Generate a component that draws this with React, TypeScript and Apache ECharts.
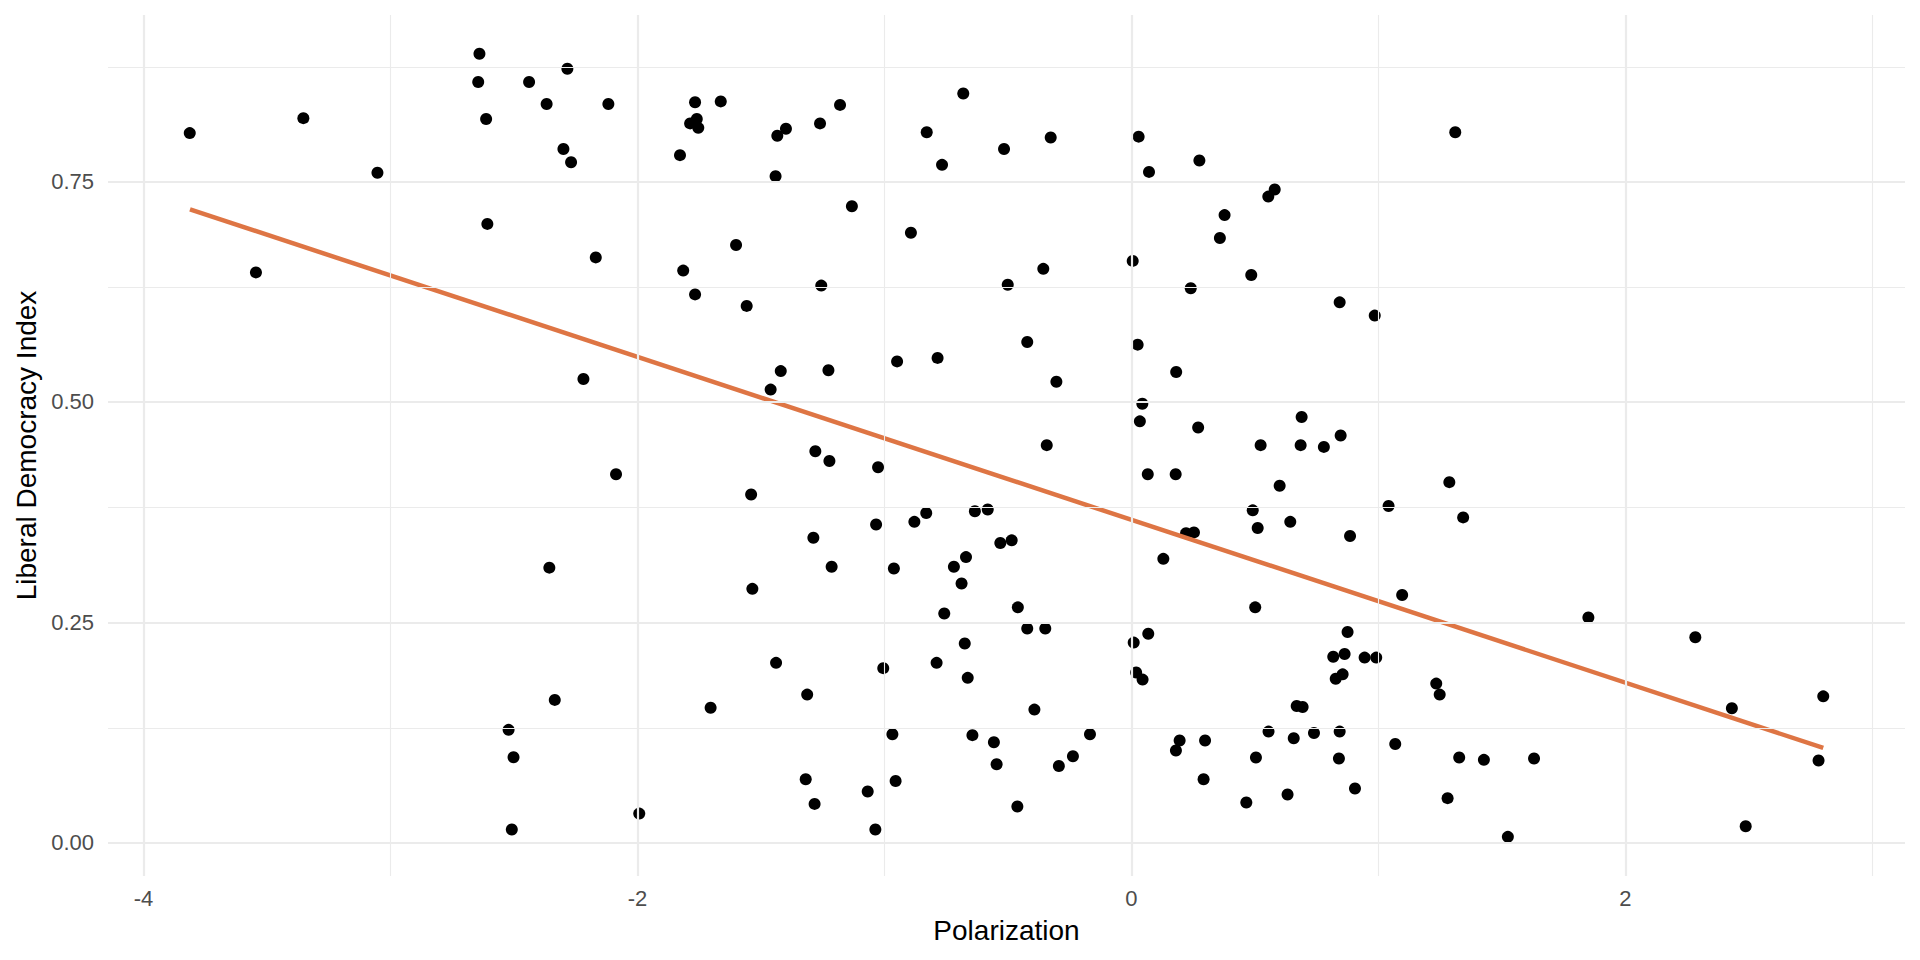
import React, { useEffect, useRef } from "react";
import * as echarts from "echarts";

const polarization: number[] = [
  -3.813, -3.545, -3.353, -3.053, -2.640, -2.645, -2.613, -2.608, -2.439, -2.368,
  -2.284, -2.300, -2.269, -2.118, -2.169, -2.219, -2.087, -2.357, -2.335, -2.522,
  -2.502, -2.509, -1.993, -1.828, -1.815, -1.767, -1.787, -1.760, -1.754, -1.767,
  -1.663, -1.704, -1.601, -1.558, -1.540, -1.535, -1.461, -1.441, -1.434, -1.399,
  -1.420, -1.439, -1.313, -1.319, -1.283, -1.288, -1.280, -1.261, -1.256, -1.227,
  -1.223, -1.214, -1.180, -1.132, -1.068, -1.037, -1.034, -1.026, -1.005, -0.968,
  -0.955, -0.962, -0.949, -0.893, -0.879, -0.829, -0.831, -0.789, -0.785, -0.767,
  -0.758, -0.719, -0.688, -0.681, -0.670, -0.675, -0.663, -0.644, -0.634, -0.582,
  -0.557, -0.546, -0.531, -0.516, -0.501, -0.485, -0.460, -0.462, -0.422, -0.422,
  -0.393, -0.357, -0.349, -0.343, -0.327, -0.304, -0.294, -0.237, -0.168, 0.005,
  0.009, 0.019, 0.045, 0.029, 0.025, 0.034, 0.044, 0.066, 0.068, 0.071,
  0.129, 0.181, 0.179, 0.195, 0.180, 0.221, 0.253, 0.240, 0.275, 0.270,
  0.292, 0.298, 0.358, 0.377, 0.465, 0.485, 0.491, 0.501, 0.511, 0.504,
  0.523, 0.554, 0.580, 0.555, 0.600, 0.632, 0.643, 0.657, 0.669, 0.693,
  0.689, 0.685, 0.739, 0.779, 0.827, 0.817, 0.843, 0.847, 0.843, 0.840,
  0.855, 0.863, 0.875, 0.885, 0.905, 0.944, 0.985, 0.991, 1.041, 1.068,
  1.096, 1.234, 1.248, 1.280, 1.287, 1.311, 1.327, 1.343, 1.427, 1.524,
  1.630, 1.850, 2.283, 2.431, 2.487, 2.782, 2.801,
];

const liberalDemocracy: number[] = [
  0.805, 0.647, 0.822, 0.760, 0.895, 0.863, 0.821, 0.702, 0.863, 0.838,
  0.878, 0.787, 0.772, 0.838, 0.664, 0.526, 0.418, 0.312, 0.162, 0.128,
  0.097, 0.015, 0.033, 0.780, 0.649, 0.840, 0.816, 0.821, 0.811, 0.622,
  0.841, 0.153, 0.678, 0.609, 0.395, 0.288, 0.514, 0.756, 0.802, 0.810,
  0.535, 0.204, 0.168, 0.072, 0.044, 0.346, 0.444, 0.816, 0.632, 0.536,
  0.433, 0.313, 0.837, 0.722, 0.058, 0.015, 0.361, 0.426, 0.198, 0.123,
  0.070, 0.311, 0.546, 0.692, 0.364, 0.806, 0.374, 0.204, 0.550, 0.769,
  0.260, 0.313, 0.294, 0.850, 0.324, 0.226, 0.187, 0.122, 0.376, 0.378,
  0.114, 0.089, 0.340, 0.787, 0.633, 0.343, 0.267, 0.041, 0.568, 0.243,
  0.151, 0.651, 0.243, 0.451, 0.800, 0.523, 0.087, 0.098, 0.123, 0.660,
  0.227, 0.193, 0.185, 0.801, 0.565, 0.478, 0.498, 0.418, 0.237, 0.761,
  0.322, 0.534, 0.418, 0.116, 0.1045, 0.351, 0.352, 0.629, 0.774, 0.471,
  0.072, 0.116, 0.686, 0.712, 0.0456, 0.644, 0.377, 0.267, 0.357, 0.0966,
  0.451, 0.733, 0.741, 0.126, 0.405, 0.0547, 0.364, 0.1185, 0.155, 0.154,
  0.483, 0.451, 0.1245, 0.449, 0.186, 0.211, 0.613, 0.462, 0.126, 0.0955,
  0.191, 0.214, 0.239, 0.348, 0.0615, 0.210, 0.598, 0.210, 0.382, 0.112,
  0.281, 0.1805, 0.168, 0.0505, 0.409, 0.806, 0.0966, 0.369, 0.094, 0.0066,
  0.0955, 0.2554, 0.233, 0.1525, 0.0187, 0.0932, 0.166,
];

// fitted line endpoints
const trendX: number[] = [-3.812, 2.801];
const trendY: number[] = [0.7185, 0.1075];

const xTicks: number[] = [-4, -2, 0, 2];
const xMinor: number[] = [-3, -1, 1, 3];
const yTicks: number[] = [0, 0.25, 0.5, 0.75];
const yMinor: number[] = [0.125, 0.375, 0.625, 0.875];

const xRange: number[] = [-4.144, 3.132];
const yRange: number[] = [-0.0378, 0.939];

const FONT = "'Liberation Sans', Arial, Helvetica, sans-serif";

export default function App() {
  const ref = useRef<HTMLDivElement | null>(null);

  useEffect(() => {
    document.body.style.margin = "0";
    if (!ref.current) return;
    const chart = echarts.init(ref.current, undefined, { renderer: "svg" });

    const gridColor = "#EBEBEB";
    const markData: any[] = [
      ...xTicks.map((v) => ({ xAxis: v, lineStyle: { width: 2.2, color: gridColor, type: "solid" } })),
      ...xMinor.map((v) => ({ xAxis: v, lineStyle: { width: 1.1, color: gridColor, type: "solid" } })),
      ...yTicks.map((v) => ({ yAxis: v, lineStyle: { width: 2.2, color: gridColor, type: "solid" } })),
      ...yMinor.map((v) => ({ yAxis: v, lineStyle: { width: 1.1, color: gridColor, type: "solid" } })),
    ];

    const points = polarization.map((x, i) => [x, liberalDemocracy[i]]);
    const trend = trendX.map((x, i) => [x, trendY[i]]);

    chart.setOption({
      animation: false,
      backgroundColor: "#FFFFFF",
      grid: { left: 108, right: 15, top: 15, bottom: 84, containLabel: false },
      xAxis: {
        type: "value",
        min: xRange[0],
        max: xRange[1],
        name: "Polarization",
        nameLocation: "middle",
        nameGap: 40,
        nameTextStyle: { fontFamily: FONT, fontSize: 28, color: "#000000", lineHeight: 28 },
        axisLine: { show: false },
        axisTick: { show: false },
        splitLine: { show: false },
        axisLabel: {
          customValues: xTicks,
          margin: 11,
          fontFamily: FONT,
          fontSize: 22,
          lineHeight: 22,
          color: "#4D4D4D",
          formatter: (v: number) => String(v),
        },
      },
      yAxis: {
        type: "value",
        min: yRange[0],
        max: yRange[1],
        name: "Liberal Democracy Index",
        nameLocation: "middle",
        nameGap: 68,
        nameRotate: 90,
        nameTextStyle: { fontFamily: FONT, fontSize: 28, color: "#000000", lineHeight: 28 },
        axisLine: { show: false },
        axisTick: { show: false },
        splitLine: { show: false },
        axisLabel: {
          customValues: yTicks,
          margin: 14,
          fontFamily: FONT,
          fontSize: 22,
          color: "#4D4D4D",
          formatter: (v: number) => v.toFixed(2),
        },
      },
      series: [
        {
          type: "line",
          data: [],
          z: 1,
          silent: true,
          markLine: {
            silent: true,
            symbol: ["none", "none"],
            label: { show: false },
            animation: false,
            data: markData,
          },
        },
        {
          type: "scatter",
          data: points,
          symbol: "circle",
          symbolSize: 12,
          itemStyle: { color: "#000000", opacity: 1 },
          z: 3,
          silent: true,
        },
        {
          type: "line",
          data: trend,
          symbol: "none",
          lineStyle: { color: "#DE7544", width: 4.5, opacity: 1 },
          z: 4,
          silent: true,
        },
      ],
    });

    return () => {
      chart.dispose();
    };
  }, []);

  return <div ref={ref} style={{ width: "1920px", height: "960px" }} />;
}
